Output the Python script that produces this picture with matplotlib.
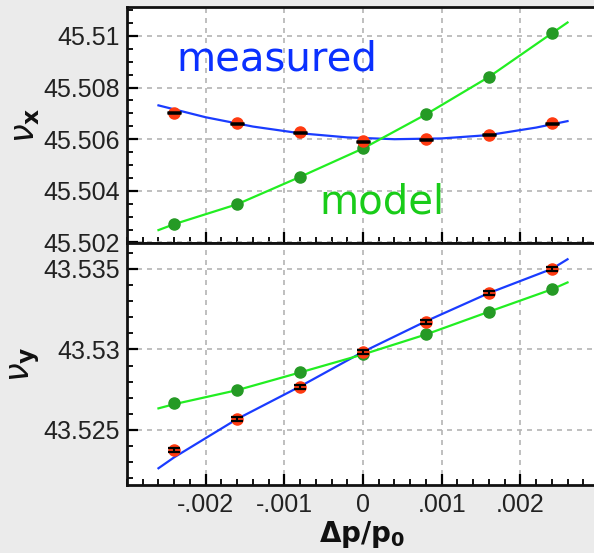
import matplotlib
matplotlib.use("Agg")
import matplotlib.pyplot as plt
from matplotlib.ticker import MultipleLocator

# ---- data ----
dp = [-0.0024, -0.0016, -0.0008, 0.0, 0.0008, 0.0016, 0.0024]

nux_measured = [45.50703, 45.50661, 45.50626, 45.50592, 45.50600, 45.50617, 45.50661]
nux_model = [45.50271, 45.50348, 45.50454, 45.50564, 45.50696, 45.50841, 45.51010]
nuy_measured = [43.52376, 43.52568, 43.52764, 43.52985, 43.53168, 43.53348, 43.53500]
nuy_model = [43.52665, 43.52747, 43.52857, 43.52969, 43.53093, 43.53234, 43.53373]

nux_meas_err = [0.00002] * 7
nuy_meas_err = [0.00012] * 7

# fitted curves
fit_x_top_meas = [-0.0026, -0.0020, -0.0014, -0.0008, -0.0002, 0.0004, 0.0010, 0.0016, 0.0022, 0.0026]
fit_y_top_meas = [45.50731, 45.50685, 45.50649, 45.50623, 45.50607, 45.50600, 45.50603, 45.50616, 45.50645, 45.50670]
fit_x_top_model = [-0.0026, -0.0024, -0.0016, -0.0008, 0.0, 0.0008, 0.0016, 0.0024, 0.0026]
fit_y_top_model = [45.50248, 45.50271, 45.50348, 45.50454, 45.50564, 45.50696, 45.50841, 45.51010, 45.51052]
fit_x_bot = [-0.0026, -0.0024, -0.0016, -0.0008, 0.0, 0.0008, 0.0016, 0.0024, 0.0026]
fit_y_bot_meas = [43.52262, 43.52330, 43.52568, 43.52770, 43.52985, 43.53175, 43.53350, 43.53500, 43.53560]
fit_y_bot_model = [43.52634, 43.52660, 43.52747, 43.52857, 43.52969, 43.53093, 43.53234, 43.53373, 43.53416]

xticks = [-0.002, -0.001, 0.0, 0.001, 0.002]
xticklabels = ["-.002", "-.001", "0", ".001", ".002"]
top_yticks = [45.502, 45.504, 45.506, 45.508, 45.51]
top_yticklabels = ["45.502", "45.504", "45.506", "45.508", "45.51"]
bot_yticks = [43.525, 43.53, 43.535]
bot_yticklabels = ["43.525", "43.53", "43.535"]

# ---- styling ----
BG = "#ebebeb"
BLUE = "#1a3cff"
LIME = "#22ee22"
DKGREEN = "#259a25"
RED = "#ff3a10"
TXTBLUE = "#0a30ff"
TXTGREEN = "#19cc19"

fig = plt.figure(figsize=(5.94, 5.53), dpi=100, facecolor=BG)
W, H = 594, 553
left = 127 / W
width = 472 / W
ax1 = fig.add_axes([left, 1 - 243 / H, width, (243 - 7) / H])
ax2 = fig.add_axes([left, 1 - 485 / H, width, (485 - 243) / H])

tickfont = dict(family="Liberation Sans", size=18)

for ax in (ax1, ax2):
    ax.set_facecolor("white")
    ax.set_xlim(-0.003, 0.003)
    ax.set_xticks(xticks)
    ax.xaxis.set_minor_locator(MultipleLocator(0.0002))
    ax.grid(True, which="major", color="#b4b4b4", linestyle=(0, (3, 3)), linewidth=1.2)
    ax.set_axisbelow(True)
    ax.tick_params(which="major", direction="in", length=8, width=1.6, color="black",
                   top=False, right=False, labelcolor="#222222", pad=5)
    ax.tick_params(which="minor", direction="in", length=4, width=1.3, color="black",
                   top=False, right=False)
    for s in ax.spines.values():
        s.set_linewidth(2.0)
        s.set_color("#111111")
    ax.spines["right"].set_visible(False)

# top panel
ax1.set_ylim(45.50198, 45.51112)
ax1.set_yticks(top_yticks)
ax1.set_yticklabels(top_yticklabels, **tickfont)
ax1.yaxis.set_minor_locator(MultipleLocator(0.0005))
ax1.set_xticklabels([])
ax1.plot(fit_x_top_meas, fit_y_top_meas, color=BLUE, lw=1.6, zorder=3)
ax1.plot(fit_x_top_model, fit_y_top_model, color=LIME, lw=1.6, zorder=3)
ax1.plot(dp, nux_model, "o", color=DKGREEN, ms=8, mec=DKGREEN, zorder=4)
ax1.plot(dp, nux_measured, "o", color=RED, ms=8, mec=RED, zorder=5)
ax1.errorbar(dp, nux_measured, yerr=nux_meas_err, fmt="none",
             ecolor="black", elinewidth=1.5, capsize=5, capthick=1.8, zorder=6)
ax1.text(-0.00237, 45.50867, "measured", color=TXTBLUE, fontsize=29,
         family="DejaVu Sans", ha="left", va="baseline")
ax1.text(-0.00055, 45.50312, "model", color=TXTGREEN, fontsize=29,
         family="DejaVu Sans", ha="left", va="baseline")

# bottom panel
ax2.set_ylim(43.52158, 43.53661)
ax2.set_yticks(bot_yticks)
ax2.set_yticklabels(bot_yticklabels, **tickfont)
ax2.yaxis.set_minor_locator(MultipleLocator(0.001))
ax2.set_xticklabels(xticklabels, **tickfont)
ax2.tick_params(axis="x", pad=6)
ax2.plot(fit_x_bot, fit_y_bot_meas, color=BLUE, lw=1.6, zorder=3)
ax2.plot(fit_x_bot, fit_y_bot_model, color=LIME, lw=1.6, zorder=3)
ax2.plot(dp, nuy_model, "o", color=DKGREEN, ms=8, mec=DKGREEN, zorder=4)
ax2.plot(dp, nuy_measured, "o", color=RED, ms=8, mec=RED, zorder=5)
ax2.errorbar(dp, nuy_measured, yerr=nuy_meas_err, fmt="none",
             ecolor="black", elinewidth=1.5, capsize=4, capthick=1.6, zorder=6)

# axis labels
fig.text(362 / W, 1 - 535 / H, r"$\mathbf{\Delta p/p_0}$", fontsize=20, color="#111111",
         ha="center", va="center")
fig.text(25 / W, 1 - 125 / H, r"$\nu_{\mathbf{x}}$", fontsize=24, color="#111111",
         rotation=90, ha="center", va="center")
fig.text(25 / W, 1 - 364 / H, r"$\nu_{\mathbf{y}}$", fontsize=24, color="#111111",
         rotation=90, ha="center", va="center")

fig.savefig("out.png", dpi=100, facecolor=BG)
